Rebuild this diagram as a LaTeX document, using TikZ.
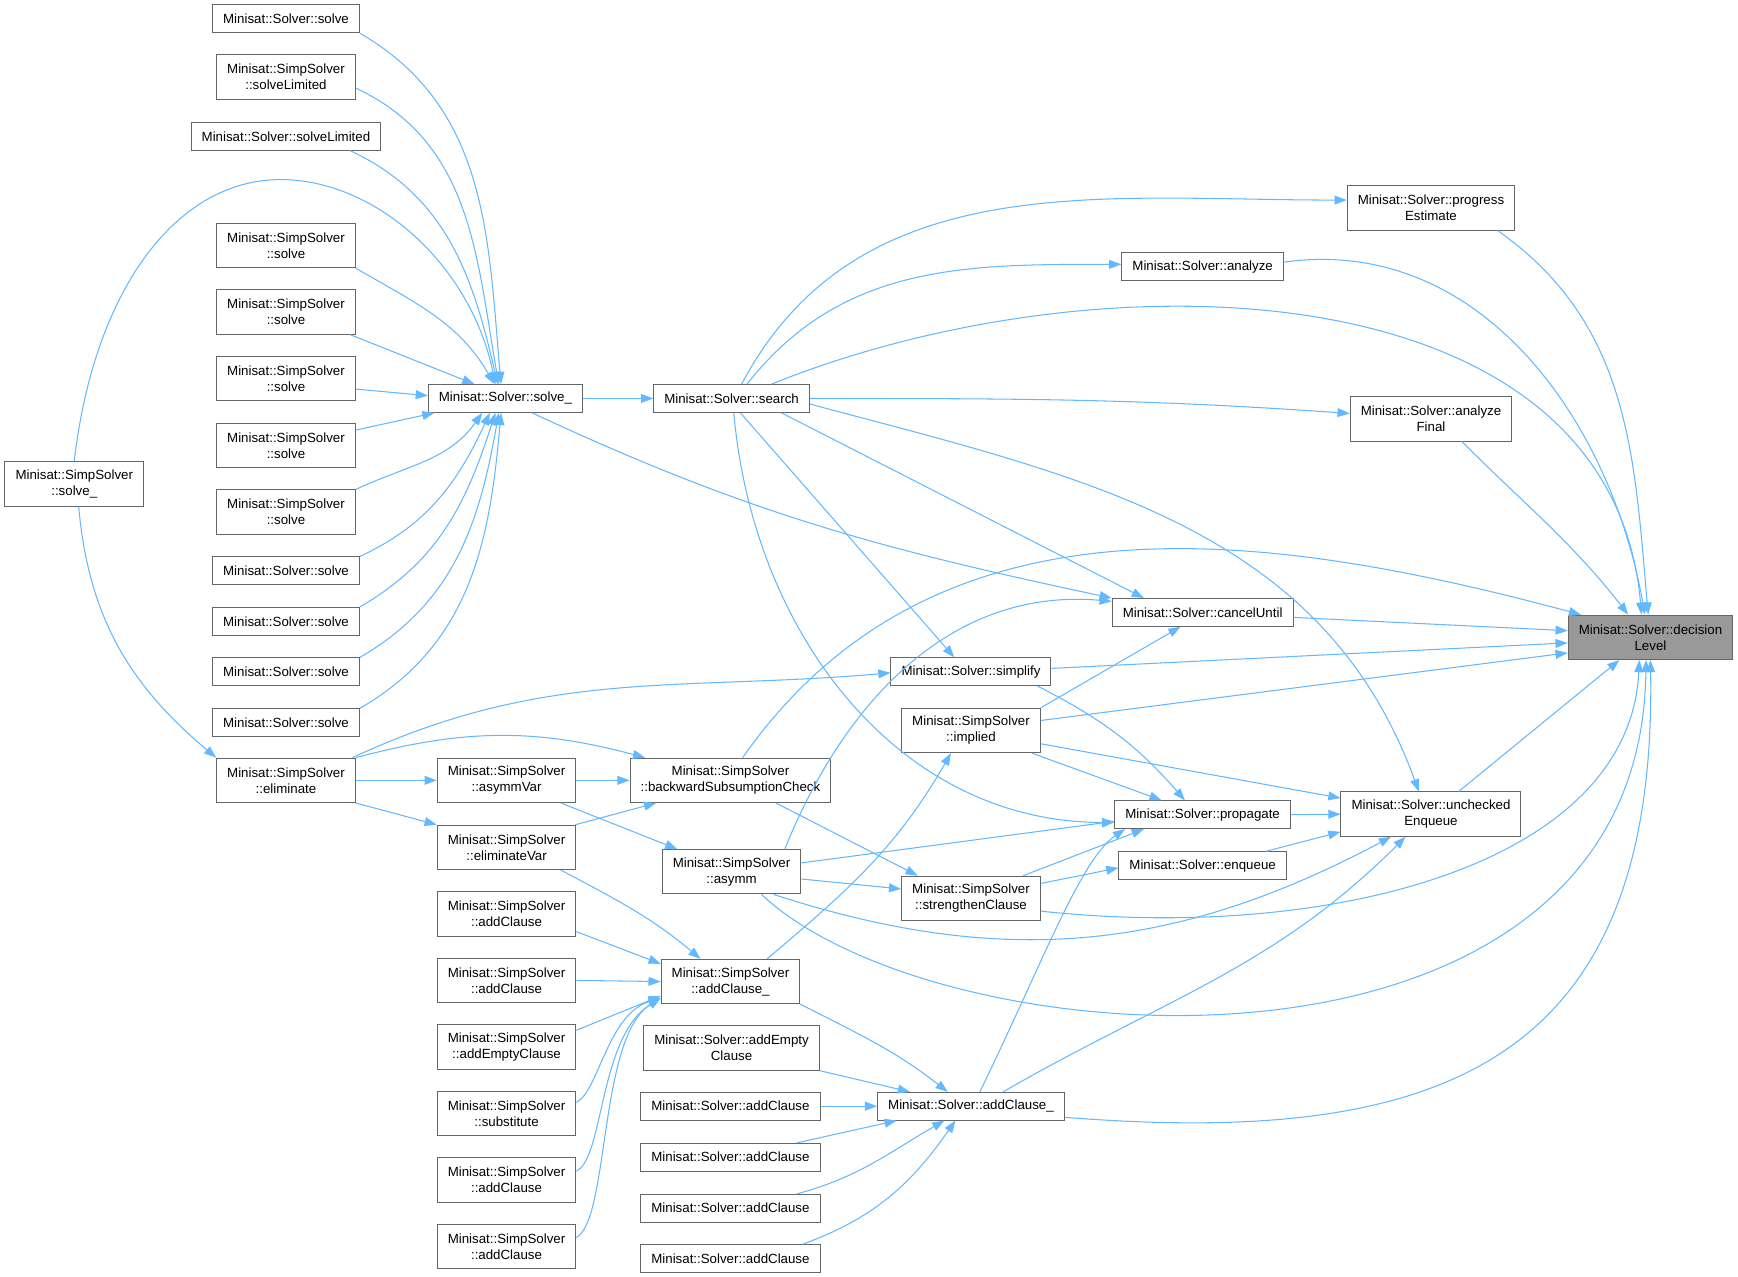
\documentclass[tikz,border=0pt]{standalone}
\usepackage{fontspec}
\setmainfont{Liberation Sans}
\usetikzlibrary{arrows.meta}
\definecolor{edgeblue}{HTML}{63B8FF}
\definecolor{boxline}{HTML}{666666}
\definecolor{rootfill}{HTML}{999999}

\begin{document}
\begin{tikzpicture}[
    x=1pt, y=1pt,
    fn/.style={draw=boxline, fill=white, line width=0.9pt,
               font=\fontsize{12pt}{14.4pt}\selectfont, align=center,
               inner xsep=9.5pt, inner ysep=2pt, minimum height=25pt},
    fn2/.style={fn, minimum height=40pt},
    root/.style={fn2, fill=rootfill},
    call/.style={edgeblue, line width=0.95pt,
                 -{Triangle[length=11pt, width=8pt]}}
]
\useasboundingbox (0,0) rectangle (1568,-1152);

% ---------- callers, left side ----------
\node[fn2] (simpSolveU)   at (67,-436.5)  {Minisat::SimpSolver\\::solve\_};
\node[fn]  (solveA)       at (258,-17)    {Minisat::Solver::solve};
\node[fn2] (simpSolveLim) at (258,-69.5)  {Minisat::SimpSolver\\::solveLimited};
\node[fn]  (solveLim)     at (258,-123)   {Minisat::Solver::solveLimited};
\foreach \n/\y in {A/221.5, B/281.5, C/341.5, D/402, E/462}
  \node[fn2] (simpSolve\n) at (258,-\y) {Minisat::SimpSolver\\::solve};
\foreach \n/\y in {B/515, C/560.5, D/606, E/652}
  \node[fn] (solve\n) at (258,-\y) {Minisat::Solver::solve};
\node[fn2] (elim)         at (258,-704)   {Minisat::SimpSolver\\::eliminate};

\node[fn]  (solveU)       at (456,-359.5) {Minisat::Solver::solve\_};
\node[fn2] (asymmVar)     at (457,-704)   {Minisat::SimpSolver\\::asymmVar};
\node[fn2] (elimVar)      at (457,-764.5) {Minisat::SimpSolver\\::eliminateVar};
\node[fn2] (simpAddA)     at (457,-824.5) {Minisat::SimpSolver\\::addClause};
\node[fn2] (simpAddB)     at (457,-884.5) {Minisat::SimpSolver\\::addClause};
\node[fn2] (simpAddEmpty) at (457,-944.5) {Minisat::SimpSolver\\::addEmptyClause};
\node[fn2] (subst)        at (457,-1004.5){Minisat::SimpSolver\\::substitute};
\node[fn2] (simpAddC)     at (457,-1064.5){Minisat::SimpSolver\\::addClause};
\node[fn2] (simpAddD)     at (457,-1124.5){Minisat::SimpSolver\\::addClause};

% ---------- middle ----------
\node[fn]  (search)       at (660,-359.5) {Minisat::Solver::search};
\node[fn2] (bsc)          at (659,-704)   {Minisat::SimpSolver\\::backwardSubsumptionCheck};
\node[fn2] (asymm)        at (660,-786.5) {Minisat::SimpSolver\\::asymm};
\node[fn2] (simpAddU)     at (659,-885.5) {Minisat::SimpSolver\\::addClause\_};
\node[fn2] (addEmpty)     at (660,-945.5) {Minisat::Solver::addEmpty\\Clause};
\foreach \n/\y in {A/998, B/1044, C/1090, D/1135.5}
  \node[fn] (add\n) at (659,-\y) {Minisat::Solver::addClause};

\node[fn]  (simplify)     at (876,-606)   {Minisat::Solver::simplify};
\node[fn2] (implied)      at (876,-659)   {Minisat::SimpSolver\\::implied};
\node[fn2] (strengthen)   at (876,-810.5) {Minisat::SimpSolver\\::strengthenClause};
\node[fn]  (addU)         at (876,-998)   {Minisat::Solver::addClause\_};

% ---------- callees, right side ----------
\node[fn]  (analyze)      at (1085,-240.5) {Minisat::Solver::analyze};
\node[fn]  (cancel)       at (1085,-552.5) {Minisat::Solver::cancelUntil};
\node[fn]  (propagate)    at (1085,-735)   {Minisat::Solver::propagate};
\node[fn]  (enqueue)      at (1085,-781)   {Minisat::Solver::enqueue};
\node[fn2] (progress)     at (1291,-187.5) {Minisat::Solver::progress\\Estimate};
\node[fn2] (analyzeFinal) at (1291,-378)   {Minisat::Solver::analyze\\Final};
\node[fn2] (unchecked)    at (1291,-734.5) {Minisat::Solver::unchecked\\Enqueue};
\node[root] (decLevel)    at (1489,-575)   {Minisat::Solver::decision\\Level};

% ---------- calls into solve_ ----------
\draw[call] (solveA.south east) to[out=-30,in=95] ([xshift=-4pt]solveU.north);
\draw[call] ([yshift=-10pt]simpSolveLim.east) to[out=-25,in=100] ([xshift=-6pt]solveU.north);
\draw[call] ([xshift=58pt]solveLim.south) to[out=-25,in=103] ([xshift=-7pt]solveU.north);
\draw[call] (simpSolveU.north) .. controls (85,-260) and (160,-162) .. (253,-162)
            .. controls (340,-162) and (425,-240) .. ([xshift=-9pt]solveU.north);
\draw[call] (simpSolveA.south east) to[out=-30,in=120] ([xshift=-10pt]solveU.north);
\draw[call] ([xshift=58pt]simpSolveB.south) -- ([xshift=-28pt]solveU.north);
\draw[call] ([yshift=-9.5pt]simpSolveC.east) -- ([yshift=2.5pt]solveU.west);
\draw[call] ([yshift=14pt]simpSolveD.east) -- ([xshift=6pt]solveU.south west);
\draw[call] (simpSolveE.north east) to[out=25,in=-125] ([xshift=-21pt]solveU.south);
\draw[call] (solveB.north east) to[out=25,in=-115] ([xshift=-14pt]solveU.south);
\draw[call] (solveC.north east) to[out=30,in=-108] ([xshift=-9pt]solveU.south);
\draw[call] (solveD.north east) to[out=30,in=-100] ([xshift=-6pt]solveU.south);
\draw[call] (solveE.north east) to[out=30,in=-95] ([xshift=-4pt]solveU.south);

\draw[call] (solveU.east) -- (search.west);
\draw[call] ([xshift=24pt]solveU.south) to[out=-25,in=168] (cancel.north west);

% ---------- calls from search ----------
\draw[call] ([xshift=9pt]search.north) to[out=62,in=180] ([yshift=7pt]progress.west);
\draw[call] ([xshift=14pt]search.north) to[out=52,in=180] ([yshift=2pt]analyze.west);
\draw[call] ([xshift=36pt]search.north) to[out=22,in=95] ([xshift=-8pt]decLevel.north);
\draw[call] (search.east) to[out=0,in=176] ([yshift=5pt]analyzeFinal.west);
\draw[call] ([xshift=45pt]search.south) -- ([xshift=-53pt]cancel.north);
\draw[call] ([yshift=-5pt]search.east) to[out=-15,in=110] ([xshift=-11pt]unchecked.north);
\draw[call] ([xshift=8pt]search.south) -- ([xshift=-15pt]simplify.north);
\draw[call] ([xshift=2pt]search.south) to[out=-85,in=180] ([yshift=-7pt]propagate.west);

% ---------- eliminate and friends ----------
\draw[call] ([xshift=4pt]simpSolveU.south) to[out=-85,in=140] (elim.north west);
\draw[call] (elim.east) -- (asymmVar.west);
\draw[call] (elim.south east) -- (elimVar.north west);
\draw[call] (elim.north east) to[out=15,in=165] ([xshift=14pt]bsc.north west);
\draw[call] ([xshift=-3pt]elim.north east) to[out=25,in=185] ([yshift=-1pt]simplify.west);
\draw[call] (asymmVar.east) -- (bsc.west);
\draw[call] ([xshift=49pt]asymmVar.south) -- ([xshift=14pt]asymm.north west);
\draw[call] ([xshift=62pt]elimVar.north) -- ([xshift=24pt]bsc.south west);
\draw[call] ([xshift=49pt]elimVar.south) to[out=-28,in=140] ([xshift=-27pt]simpAddU.north);

\draw[call] ([yshift=-16pt]simpAddA.east) -- ([yshift=16pt]simpAddU.west);
\draw[call] (simpAddB.east) -- (simpAddU.west);
\draw[call] ([yshift=15pt]simpAddEmpty.east) -- ([yshift=-13pt]simpAddU.west);
\draw[call] ([yshift=10pt]subst.east) .. controls (540,-985) and (548,-915) .. ([yshift=-15pt]simpAddU.west);
\draw[call] ([yshift=8pt]simpAddC.east) .. controls (545,-1045) and (540,-935) .. ([yshift=-15pt]simpAddU.west);
\draw[call] ([yshift=8pt]simpAddD.east) .. controls (550,-1100) and (540,-935) .. ([yshift=-15pt]simpAddU.west);

\draw[call] ([xshift=33pt]simpAddU.north) to[out=40,in=-120] ([xshift=-18pt]implied.south);
\draw[call] (simpAddU.south east) to[out=-27,in=142] ([xshift=-21pt]addU.north);
\draw[call] (addEmpty.south east) -- ([xshift=-55pt]addU.north);
\draw[call] (addA.east) -- (addU.west);
\draw[call] ([xshift=60pt]addB.north) -- ([xshift=-67pt]addU.south);
\draw[call] ([xshift=60pt]addC.north) to[out=15,in=-150] ([xshift=-24pt]addU.south);
\draw[call] ([xshift=65pt]addD.north) to[out=20,in=-125] ([xshift=-14pt]addU.south);

% ---------- asymm, strengthen, implied, simplify ----------
\draw[call] ([xshift=48pt]asymm.north) to[out=68,in=175] ([yshift=10pt]cancel.west);
\draw[call] ([yshift=8pt]asymm.east) -- ([yshift=-6pt]propagate.west);
\draw[call] ([yshift=-6.5pt]asymm.east) -- ([yshift=8.5pt]strengthen.west);
\draw[call] ([xshift=38pt]asymm.south) to[out=-18,in=208] ([xshift=-36pt]unchecked.south);
\draw[call] ([xshift=41pt]bsc.south) -- ([xshift=-48pt]strengthen.north);
\draw[call] ([xshift=47pt]strengthen.north) -- ([xshift=-53pt]propagate.south);
\draw[call] ([yshift=13.5pt]strengthen.east) -- ([yshift=-2pt]enqueue.west);
\draw[call] ([xshift=60pt]simplify.south) to[out=-27,in=131] ([xshift=-16pt]propagate.north);
\draw[call] ([xshift=55pt]implied.south) -- ([xshift=-37pt]propagate.north);
\draw[call] ([yshift=-12pt]implied.east) -- ([yshift=14.5pt]unchecked.west);
\draw[call] (implied.north east) -- ([xshift=-20pt]cancel.south);
\draw[call] ([xshift=8pt]addU.north) .. controls (940,-870) and (975,-775) .. ([xshift=-70pt]propagate.south);
\draw[call] ([xshift=29pt]addU.north) to[out=30,in=-135] ([xshift=-23pt]unchecked.south);
\draw[call] (propagate.east) -- (unchecked.west);
\draw[call] ([xshift=57pt]enqueue.north) -- ([yshift=-16pt]unchecked.west);

% ---------- calls into decisionLevel ----------
\draw[call] ([xshift=60pt]progress.south) to[out=-35,in=95] ([xshift=-2pt]decLevel.north);
\draw[call] ([yshift=4pt]analyze.east) to[out=8,in=100] ([xshift=-5pt]decLevel.north);
\draw[call] ([xshift=28pt]analyzeFinal.south) to[out=-45,in=128] ([xshift=-20pt]decLevel.north);
\draw[call] ([xshift=11pt]bsc.north) to[out=55,in=165] ([xshift=12pt]decLevel.north west);
\draw[call] ([yshift=-4.5pt]cancel.east) -- ([yshift=6pt]decLevel.west);
\draw[call] ([yshift=3pt]simplify.east) -- ([yshift=-5pt]decLevel.west);
\draw[call] ([yshift=9pt]implied.east) -- ([yshift=-14pt]decLevel.west);
\draw[call] ([xshift=25pt]unchecked.north) -- ([xshift=-28pt]decLevel.south);
\draw[call] ([yshift=-11.5pt]strengthen.east) .. controls (1200,-850) and (1470,-780) .. ([xshift=-10pt]decLevel.south);
\draw[call] ([xshift=27pt]asymm.south) .. controls (850,-960) and (1480,-1000) .. ([xshift=-4pt]decLevel.south);
\draw[call] ([yshift=-10pt]addU.east) .. controls (1300,-1035) and (1495,-960) .. (decLevel.south);

\end{tikzpicture}
\end{document}
